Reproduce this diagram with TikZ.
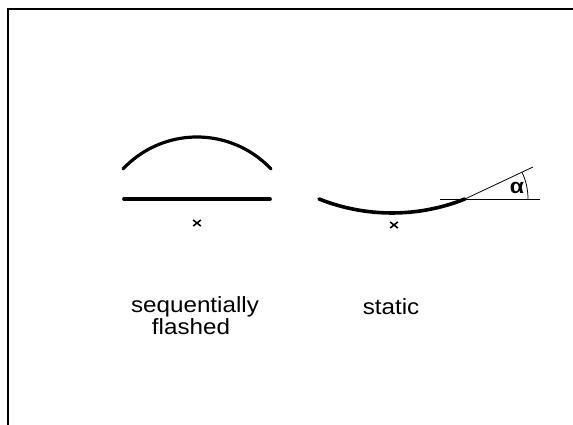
\documentclass[tikz,border=0pt]{standalone}
\usepackage{fontspec}
\setmainfont{Liberation Sans}[FakeStretch=1.1]
\usetikzlibrary{shapes.misc, positioning}
\tikzset{
  mirror/.style={line width=3.2pt, line cap=round},
  guide/.style={line width=0.8pt},
  focus/.style={cross out, draw, line width=1.6pt, minimum width=6pt, minimum height=4.5pt, inner sep=0pt},
  caption/.style={font=\fontsize{22}{24}\selectfont, inner sep=0pt},
}

\begin{document}
\begin{tikzpicture}[x=1pt, y=1pt]
    \useasboundingbox (0,0) rectangle (573,425);
    % frame
    \draw[line width=2pt] (8,0) -- (8,416) -- (573,416);
    % sequentially flashed
    \draw[mirror] (197,186.4) ++(136.7:101.6) arc[start angle=136.7, end angle=43.3, radius=101.6];
    \draw[mirror, line width=3.8pt] (124,226) -- (270,226);
    \node[focus] (f1) at (197,202) {};
    % static
    \draw[mirror, line width=3.6pt] (392,409.3) ++(248.3:197.3) arc[start angle=248.3, end angle=291.7, radius=197.3];
    \coordinate (edge) at (465,226);
    \draw[guide] (440,226) -- (540,226);
    \draw[guide] (edge) -- ++(25.2:75);
    \draw[guide] (edge) ++(0:63) arc[start angle=0, end angle=25.2, radius=63];
    \node[font=\fontsize{21}{21}\selectfont\bfseries, inner sep=0pt] (alpha) at (517,237) {α};
    \node[focus] (f2) at (394,200) {};
    % captions
    \node[caption, anchor=base] (seq) at (195,112) {sequentially};
    \node[caption, anchor=base] (flash) at (191,90) {flashed};
    \node[caption, anchor=base] (stat) at (391,110) {static};
\end{tikzpicture}
\end{document}
